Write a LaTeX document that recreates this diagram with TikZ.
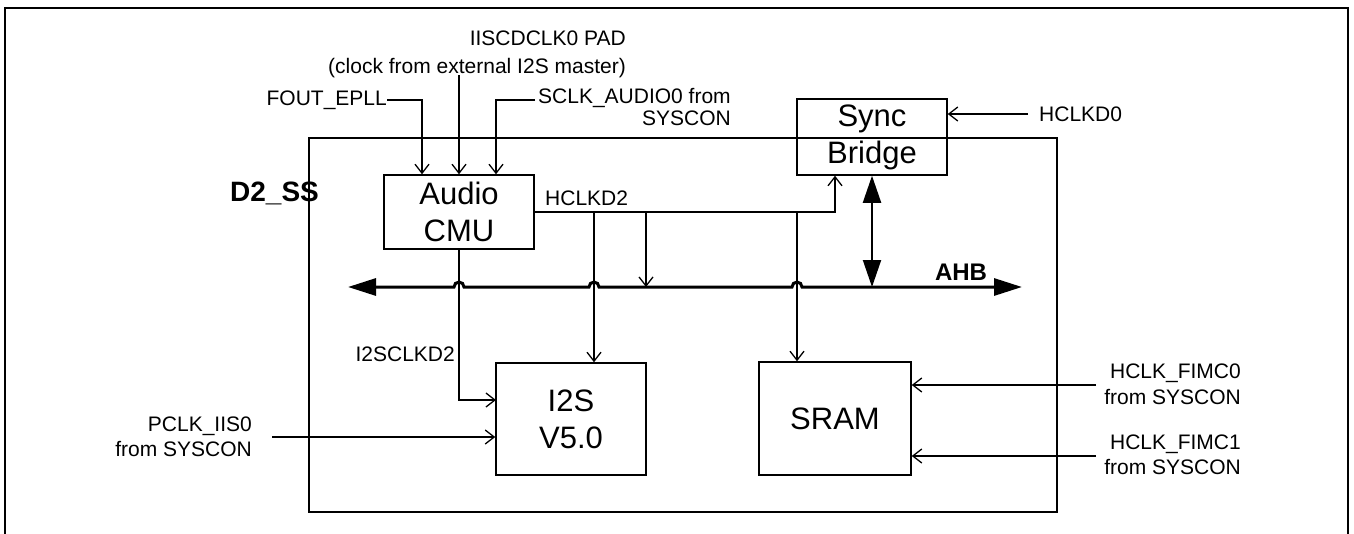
\documentclass[tikz,border=0pt]{standalone}
\usepackage{fontspec}
\setmainfont{Liberation Sans}
\usetikzlibrary{arrows.meta}
\begin{document}
\begin{tikzpicture}[x=1pt,y=-1pt,
  lbl/.style={font=\fontsize{21}{25}\selectfont, inner sep=0pt},
  blk/.style={draw, line width=1.5pt, font=\fontsize{31}{37}\selectfont, align=center, inner sep=0pt},
  arr/.style={line width=1.3pt, -{Straight Barb[length=9pt,width=14pt]}},
  bus/.style={line width=3pt, {Triangle[length=28pt,width=17pt]}-{Triangle[length=28pt,width=17pt]}},
  bidir/.style={line width=2pt, {Triangle[length=27pt,width=18pt]}-{Triangle[length=27pt,width=18pt]}}
]
\useasboundingbox (0,0) rectangle (1354,533);
% outer frame
\draw[line width=2pt] (5,545) -- (5,8) -- (1348,8) -- (1348,545);
% subsystem box
\node[draw, line width=1.5pt, minimum width=748pt, minimum height=374pt, inner sep=0pt] (d2ss) at (683,325) {};
\node[font=\fontsize{28}{34}\selectfont\bfseries, inner sep=0pt, anchor=west] (d2lbl) at (230,193) {D2\_SS};

% blocks
\node[blk, minimum width=150pt, minimum height=74pt] (audio) at (459,212) {Audio\\CMU};
\node[blk, minimum width=150pt, minimum height=76pt] (sync) at (872,137) {Sync\\Bridge};
\node[blk, minimum width=150pt, minimum height=112pt] (i2s) at (571,419) {I2S\\V5.0};
\node[blk, minimum width=152pt, minimum height=113pt] (sram) at (835,418.5) {SRAM};

% labels
\node[lbl, anchor=east] (fout) at (387,100) {FOUT\_EPLL};
\node[lbl, font=\fontsize{21}{28}\selectfont, align=right, anchor=east] (iis) at (626,54) {IISCDCLK0 PAD\\(clock from external I2S master)};
\node[lbl, font=\fontsize{21}{22}\selectfont, align=right, anchor=west] (sclk) at (538,107.5) {SCLK\_AUDIO0 from\\SYSCON};
\node[lbl, anchor=west] (hd0) at (1039,114) {HCLKD0};
\node[lbl, anchor=west] (hd2) at (545,198) {HCLKD2};
\node[lbl, anchor=east] (i2sclk) at (455,354) {I2SCLKD2};
\node[lbl, align=right, anchor=east] (pclk) at (252,436.5) {PCLK\_IIS0\\from SYSCON};
\node[lbl, font=\fontsize{21}{26}\selectfont, align=right, anchor=east] (fimc0) at (1241,384) {HCLK\_FIMC0\\from SYSCON};
\node[lbl, align=right, anchor=east] (fimc1) at (1241,455) {HCLK\_FIMC1\\from SYSCON};
\node[font=\fontsize{24}{28}\selectfont\bfseries, inner sep=0pt] (ahb) at (961,272) {AHB};

% coordinates
\coordinate (iisend) at (459,75);
\coordinate (sclkin) at (535,100);
\coordinate (hd0in) at (1028,114);
\coordinate (b1) at (594,212);
\coordinate (b2) at (646,212);
\coordinate (b3) at (797,212);
\coordinate (busL) at (348,287);
\coordinate (busR) at (1022,287);
\coordinate (i2sin) at (496,400);
\coordinate (pclkin) at (272,437);
\coordinate (f0in) at (1096,385);
\coordinate (f1in) at (1096,456);

% inputs to audio CMU
\draw[arr] (fout.east) -| ([xshift=-37pt]audio.north);
\draw[arr] (iisend) -- (audio.north);
\draw[arr] (sclkin) -| ([xshift=37pt]audio.north);
% HCLKD0
\draw[arr] (hd0in) -- (hd0in -| sync.east);
% HCLKD2 distribution
\draw[arr] (audio.east) -| ([xshift=-37pt]sync.south);
\draw[arr] (b1) -- (b1 |- i2s.north);
\draw[arr] (b2) -- (b2 |- busL);
\draw[arr] (b3) -- (b3 |- sram.north);
% I2SCLKD2
\draw[arr] (audio.south) |- (i2sin);
% PCLK
\draw[arr] (pclkin) -- (pclkin -| i2s.west);
% FIMC
\draw[arr] (f0in) -- (f0in -| sram.east);
\draw[arr] (f1in) -- (f1in -| sram.east);

% AHB bus with hops
\draw[bus] (busL) -- (454,287) arc[start angle=180,end angle=0,radius=5pt]
  -- (589,287) arc[start angle=180,end angle=0,radius=5pt]
  -- (792,287) arc[start angle=180,end angle=0,radius=5pt]
  -- (busR);
% sync bridge to bus
\draw[bidir] (sync.south) -- (sync.south |- busL);
\end{tikzpicture}
\end{document}
